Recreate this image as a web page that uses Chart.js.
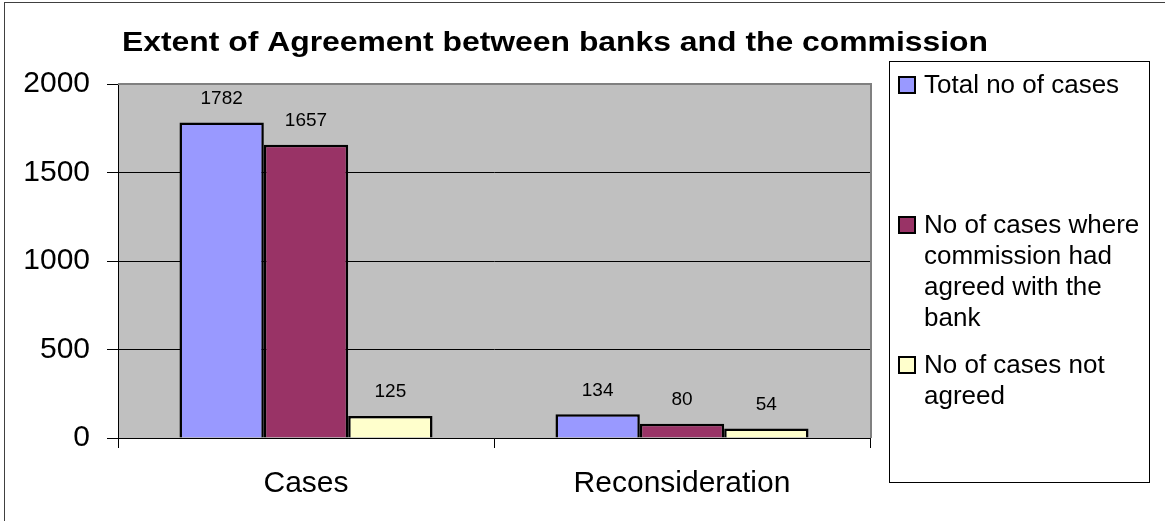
<!DOCTYPE html>
<html>
<head>
<meta charset="utf-8">
<title>Extent of Agreement between banks and the commission</title>
<script src="https://cdn.jsdelivr.net/npm/chart.js@4/dist/chart.umd.min.js"></script>
<style>
    html, body { margin: 0; padding: 0; background: #fff; }
    #chart { display: block; }
</style>
</head>
<body>
<canvas id="chart" width="1165" height="521"></canvas>
<script>
// Chart data
const chartTitle = 'Extent of Agreement between banks and the commission';
const categories = ['Cases', 'Reconsideration'];
const seriesNames = [
    'Total no of cases',
    'No of cases where commission had agreed with the bank',
    'No of cases not agreed'
];
const totalCases = [1782, 134];
const agreedCases = [1657, 80];
const notAgreedCases = [125, 54];
const yTicks = [0, 500, 1000, 1500, 2000];

const seriesColors = ['#9999FF', '#993366', '#FFFFCC'];
const FONT = '"Liberation Sans", Arial, sans-serif';

document.addEventListener("DOMContentLoaded", function () {
    // Grey plot background + grey top/right frame
    const plotArea = {
        id: 'plotArea',
        beforeDraw(chart) {
            const a = chart.chartArea;
            const ctx = chart.ctx;
            ctx.save();
            ctx.fillStyle = '#FFFFFF';
            ctx.fillRect(0, 0, chart.width, chart.height);
            ctx.fillStyle = '#C0C0C0';
            ctx.fillRect(a.left, a.top, a.right - a.left, a.bottom - a.top);
            ctx.restore();
        },
        afterDraw(chart) {
            const a = chart.chartArea;
            const ctx = chart.ctx;
            ctx.save();
            ctx.strokeStyle = '#808080';
            ctx.lineWidth = 2;
            ctx.beginPath();
            ctx.moveTo(a.left, a.top);
            ctx.lineTo(a.right + 1, a.top);
            ctx.lineTo(a.right + 1, a.bottom);
            ctx.stroke();
            ctx.restore();
        }
    };

    // Value labels above the bars
    const valueLabels = {
        id: 'valueLabels',
        afterDatasetsDraw(chart) {
            const ctx = chart.ctx;
            ctx.save();
            ctx.font = '19px ' + FONT;
            ctx.fillStyle = '#000';
            ctx.textAlign = 'center';
            ctx.textBaseline = 'middle';
            chart.data.datasets.forEach((ds, i) => {
                chart.getDatasetMeta(i).data.forEach((bar, j) => {
                    ctx.fillText(String(ds.data[j]), bar.x, bar.y - 24);
                });
            });
            ctx.restore();
        }
    };

    // Title, legend box and outer frame
    const decorations = {
        id: 'decorations',
        afterDraw(chart) {
            const ctx = chart.ctx;
            ctx.save();

            // outer frame
            ctx.strokeStyle = '#404040';
            ctx.lineWidth = 1;
            ctx.strokeRect(4.5, 2.5, chart.width, chart.height);

            // title (stretched a little, like the original)
            ctx.fillStyle = '#000';
            ctx.font = 'bold 27px ' + FONT;
            ctx.textAlign = 'center';
            ctx.textBaseline = 'alphabetic';
            const tw = ctx.measureText(chartTitle).width;
            const sx = 866 / tw;
            ctx.save();
            ctx.translate(555, 51);
            ctx.scale(sx, 1);
            ctx.fillText(chartTitle, 0, 0);
            ctx.restore();

            // legend box
            ctx.strokeStyle = '#000';
            ctx.lineWidth = 1;
            ctx.strokeRect(889.5, 61.5, 260, 421);

            const itemBaselines = [93, 233, 373];
            ctx.font = '26px ' + FONT;
            ctx.textAlign = 'left';
            chart.data.datasets.forEach((ds, i) => {
                const base = itemBaselines[i];
                ctx.fillStyle = ds.backgroundColor;
                ctx.fillRect(899, base - 16, 16, 16);
                ctx.strokeStyle = '#000';
                ctx.lineWidth = 2;
                ctx.strokeRect(899, base - 16, 16, 16);

                // wrap label text
                const words = ds.label.split(' ');
                const lines = [];
                let line = '';
                words.forEach(w => {
                    const test = line ? line + ' ' + w : w;
                    if (ctx.measureText(test).width > 222 && line) {
                        lines.push(line);
                        line = w;
                    } else {
                        line = test;
                    }
                });
                lines.push(line);
                ctx.fillStyle = '#000';
                lines.forEach((l, k) => ctx.fillText(l, 924, base + k * 31));
            });
            ctx.restore();
        }
    };

    const ctx = document.getElementById('chart').getContext('2d');
    const values = [totalCases, agreedCases, notAgreedCases];
    new Chart(ctx, {
        type: 'bar',
        data: {
            labels: categories,
            datasets: seriesNames.map((name, i) => ({
                label: name,
                data: values[i],
                backgroundColor: seriesColors[i],
                borderColor: '#000',
                borderWidth: 2.5,
                categoryPercentage: 0.673,
                barPercentage: 1.0
            }))
        },
        options: {
            responsive: false,
            animation: false,
            layout: { padding: { left: 0, top: 84, right: 295, bottom: 0 } },
            plugins: {
                legend: { display: false },
                title: { display: false },
                tooltip: { enabled: false }
            },
            scales: {
                x: {
                    grid: {
                        offset: true,
                        drawOnChartArea: false,
                        color: '#000',
                        tickLength: 10
                    },
                    border: { color: '#000', width: 1 },
                    ticks: {
                        font: { family: FONT, size: 30 },
                        color: '#000',
                        padding: 18
                    },
                    afterFit: (s) => { s.height = 83; }
                },
                y: {
                    min: 0,
                    max: 2000,
                    afterBuildTicks: (s) => { s.ticks = yTicks.map(v => ({ value: v })); },
                    grid: { color: '#000', lineWidth: 1, tickLength: 11 },
                    border: { color: '#000', width: 1 },
                    ticks: {
                        font: { family: FONT, size: 30 },
                        color: '#000',
                        padding: 17,
                        callback: (v) => String(v)
                    },
                    afterFit: (s) => { s.width = 118; }
                }
            }
        },
        plugins: [plotArea, valueLabels, decorations]
    });
});
</script>
</body>
</html>
